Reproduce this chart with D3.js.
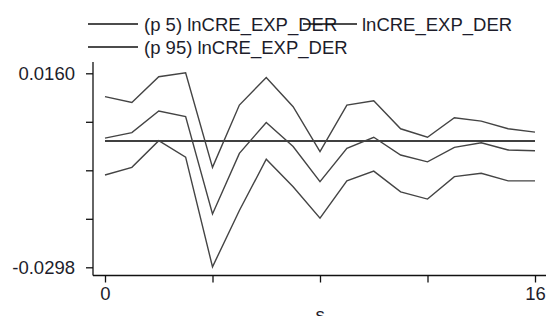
<!DOCTYPE html>
<html lang="en">
<head>
  <meta charset="UTF-8">
  <title>IRF lnCRE_EXP_DER</title>
  <script src="https://d3js.org/d3.v7.min.js"></script>
  <style>
    body { margin: 0; background: #fff; }
    svg { display: block; font-family: 'Liberation Sans', Arial, sans-serif; }
  </style>
</head>
<body>
  <div id="chart"></div>
  <script>
    const steps = d3.range(0, 17);
    const p95 = [0.0105, 0.0091, 0.0152, 0.0161, -0.0062, 0.0085, 0.0150, 0.0081, -0.0025,
                 0.0085, 0.0095, 0.0029, 0.0009, 0.0055, 0.0047, 0.0029, 0.0021];
    const irf = [0.0007, 0.0020, 0.0071, 0.0058, -0.0172, -0.0029, 0.0044, -0.0013, -0.0096,
                 -0.0017, 0.0009, -0.0033, -0.0049, -0.0015, -0.0004, -0.0021, -0.0023];
    const p5 = [-0.0080, -0.0062, 0.0001, -0.0038, -0.0297, -0.0164, -0.0043, -0.0108, -0.0182,
                -0.0094, -0.0071, -0.0120, -0.0137, -0.0084, -0.0076, -0.0094, -0.0094];
    const yTicks = [0.0160, 0.00455, -0.0069, -0.01835, -0.0298];
    const yLabels = ["0.0160", "", "", "", "-0.0298"];
    const xTicks = [0, 4, 8, 12, 16];
    const xLabels = ["0", "", "", "", "16"];

    const width = 548, height = 316;
    const svg = d3.select("#chart").append("svg").attr("width", width).attr("height", height);

    const x = d3.scaleLinear().domain([0, 16]).range([105, 535]);
    const y = d3.scaleLinear().domain([-0.0298, 0.0160]).range([267.3, 73.3]);

    // axes
    const yAxis = svg.append("g").attr("transform", "translate(93,0)")
      .call(d3.axisLeft(y).tickValues(yTicks).tickFormat((d, i) => yLabels[i]).tickSize(7).tickPadding(11));
    yAxis.select(".domain").attr("d", "M0,62V275.5");
    const xAxis = svg.append("g").attr("transform", "translate(0,275.5)")
      .call(d3.axisBottom(x).tickValues(xTicks).tickFormat((d, i) => xLabels[i]).tickSize(7).tickPadding(4));
    xAxis.select(".domain").attr("d", "M93,0H546");
    svg.selectAll(".tick text").attr("font-size", 18.5).attr("fill", "#1d1d2b");
    svg.selectAll(".domain, .tick line").attr("stroke", "#111").attr("stroke-width", 1.3);

    svg.append("text").attr("x", x(8)).attr("y", 321).attr("text-anchor", "middle")
      .attr("font-size", 18.5).attr("fill", "#1d1d2b").text("s");

    // zero line
    svg.append("line").attr("x1", x(0)).attr("x2", x(16)).attr("y1", y(0)).attr("y2", y(0))
      .attr("stroke", "#000").attr("stroke-width", 1.5);

    const line = d3.line().x((d, i) => x(steps[i])).y(d => y(d));
    [p95, irf, p5].forEach(s => {
      svg.append("path").datum(s).attr("fill", "none").attr("stroke", "#444")
        .attr("stroke-width", 1.4).attr("d", line);
    });

    // legend
    const legend = [
      { x1: 88, x2: 138, y: 24, tx: 144, ty: 31, label: "(p 5) lnCRE_EXP_DER" },
      { x1: 303, x2: 357, y: 24, tx: 362, ty: 31, label: "lnCRE_EXP_DER" },
      { x1: 88, x2: 138, y: 47, tx: 144, ty: 54, label: "(p 95) lnCRE_EXP_DER" }
    ];
    legend.forEach(l => {
      svg.append("text").attr("x", l.tx).attr("y", l.ty).attr("font-size", 18.5)
        .attr("fill", "#1d1d2b").text(l.label);
    });
    legend.forEach(l => {
      svg.append("line").attr("x1", l.x1).attr("x2", l.x2).attr("y1", l.y).attr("y2", l.y)
        .attr("stroke", "#111").attr("stroke-width", 1.5);
    });
  </script>
</body>
</html>
